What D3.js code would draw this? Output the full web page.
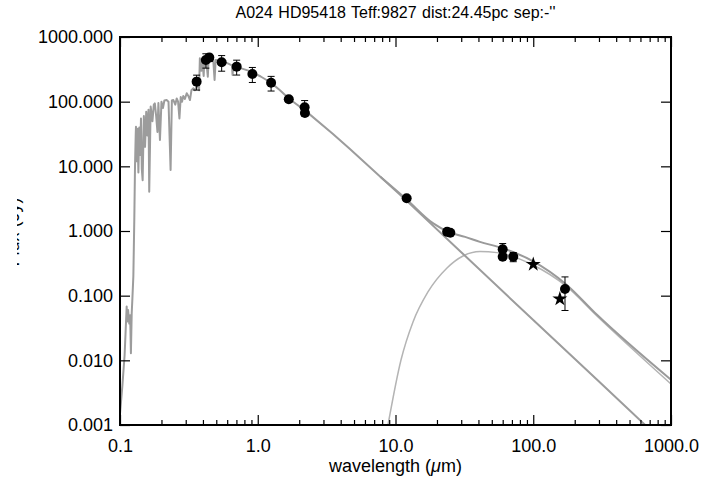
<!DOCTYPE html>
<html>
<head>
<meta charset="utf-8">
<script src="https://cdn.jsdelivr.net/npm/d3@7"></script>
<style>
  html, body { margin: 0; padding: 0; background: #fff; }
  svg { display: block; }
  text { font-family: "Liberation Sans", Arial, Helvetica, sans-serif; fill: #000; }
</style>
</head>
<body>
<svg id="chart" width="705" height="477"></svg>
<script>
// ---- data (wavelength in micron, flux density in Jy) ----
const titleText = "A024 HD95418 Teff:9827 dist:24.45pc sep:-''";

// stellar photosphere model spectrum
const specLam = [0.100, 0.104, 0.108, 0.110, 0.1118, 0.113, 0.1145, 0.1168, 0.1185, 0.120, 0.1216, 0.123,
  0.125, 0.127, 0.1285, 0.130, 0.1306, 0.132, 0.134, 0.136, 0.138, 0.140, 0.142, 0.144, 0.146, 0.149,
  0.152, 0.155, 0.158, 0.161, 0.163, 0.167, 0.172, 0.176, 0.179, 0.183, 0.187, 0.190, 0.195, 0.200,
  0.205, 0.210, 0.218, 0.225, 0.233, 0.238, 0.244, 0.252, 0.258, 0.264, 0.270, 0.276, 0.282, 0.288,
  0.296, 0.305, 0.315, 0.322, 0.330, 0.341, 0.350, 0.360, 0.368, 0.375, 0.380, 0.390, 0.397, 0.405,
  0.410, 0.420, 0.434, 0.440, 0.455, 0.475, 0.486, 0.495, 0.530, 0.600, 0.650, 0.656, 0.665, 0.750,
  0.900, 1.05, 1.25, 1.45, 1.68, 1.90, 2.19, 3.5, 4.67, 7.76, 12.0, 30.0, 100.0, 300.0, 700.0];
const specFlux = [0.0015, 0.004, 0.012, 0.03, 0.068, 0.04, 0.06, 0.037, 0.05, 0.0129, 0.053, 0.09,
  0.2, 1.5, 9.9, 30, 41, 12, 38, 8, 40, 15, 55, 9, 6.1, 60,
  20, 70, 30, 75, 4.05, 84, 50, 90, 94, 60, 34, 95, 25.5, 100,
  80, 104, 106, 100, 8.8, 104, 106, 90, 112, 100, 55, 118, 100, 122,
  110, 135, 120, 106, 150, 161, 150, 172, 180, 150, 469, 300, 420, 250,
  480, 500, 243, 480, 470, 450, 216, 440, 430, 395, 365, 258, 355, 330,
  291, 245, 196, 150, 112, 92, 74, 32, 18.6, 6.9, 2.95, 0.47, 0.042, 0.0047, 0.00086];

// cold dust component
const diskLam  = [8.82, 10.96, 13.4, 17.2, 23.65, 30.9, 41.06, 54.56, 99.6, 172.9, 290, 1000];
const diskFlux = [0.001, 0.0101, 0.0392, 0.114, 0.268, 0.411, 0.482, 0.463, 0.298, 0.141, 0.0485, 0.0043];

// photosphere + dust
const totLam  = [7.76, 12.0, 18.8, 24.2, 32.0, 41.0, 60.0, 100, 172, 289, 1000];
const totFlux = [6.9, 3.1, 1.31, 0.97, 0.81, 0.68, 0.54, 0.34, 0.152, 0.051, 0.0050];

// photometry (filled circles) with 1-sigma errors
const obsLam  = [0.36, 0.42, 0.445, 0.547, 0.703, 0.914, 1.25, 1.68, 2.19, 2.20, 12.05, 23.7, 25.0, 60.0, 60.0, 71.6, 170];
const obsFlux = [204, 440, 480, 406, 348, 268, 196, 109, 82, 67, 3.21, 0.97, 0.94, 0.52, 0.40, 0.40, 0.127];
const obsErr  = [53, 110, 60, 110, 90, 70, 50, 10, 22, 5, 0, 0, 0, 0.12, 0, 0.065, 0.068];

// far-IR photometry (stars)
const starLam  = [100, 156];
const starFlux = [0.305, 0.089];

const xTicks = [0.1, 1, 10, 100, 1000];
const yTicks = [0.001, 0.01, 0.1, 1, 10, 100, 1000];

// ---- layout ----
const svg = d3.select("#chart");
const L = 120, R = 671, T = 37, B = 425;

const x = d3.scaleLog().domain([0.1, 1000]).range([L, R]);
const y = d3.scaleLog().domain([0.001, 1000]).range([B, T]);

svg.append("defs").append("clipPath").attr("id", "plotclip")
  .append("rect").attr("x", L).attr("y", T).attr("width", R - L).attr("height", B - T);
svg.select("defs").append("clipPath").attr("id", "ylabclip")
  .append("rect").attr("x", 17).attr("y", 0).attr("width", 20).attr("height", 477);

const plot = svg.append("g").attr("clip-path", "url(#plotclip)");

const zip = (a, b) => a.map((v, i) => [v, b[i]]);
const lineLin = d3.line().x(d => x(d[0])).y(d => y(d[1]));
const lineSmooth = d3.line().x(d => x(d[0])).y(d => y(d[1])).curve(d3.curveMonotoneX);

plot.append("path").datum(zip(diskLam, diskFlux))
  .attr("d", lineSmooth).attr("fill", "none")
  .attr("stroke", "#b4b4b4").attr("stroke-width", 1.5);

plot.append("path").datum(zip(specLam, specFlux))
  .attr("d", lineLin).attr("fill", "none")
  .attr("stroke", "#9c9c9c").attr("stroke-width", 2).attr("stroke-linejoin", "round");

plot.append("path").datum(zip(totLam, totFlux))
  .attr("d", lineSmooth).attr("fill", "none")
  .attr("stroke", "#9a9a9a").attr("stroke-width", 2);

// error bars
const obs = obsLam.map((l, i) => ({ l, f: obsFlux[i], e: obsErr[i] }));
const eb = plot.append("g").attr("stroke", "#000").attr("stroke-width", 1);
obs.filter(d => d.e > 0).forEach(d => {
  const cx = x(d.l), y0 = y(d.f - d.e), y1 = y(d.f + d.e);
  eb.append("line").attr("x1", cx).attr("x2", cx).attr("y1", y0).attr("y2", y1);
  eb.append("line").attr("x1", cx - 3.5).attr("x2", cx + 3.5).attr("y1", y0).attr("y2", y0);
  eb.append("line").attr("x1", cx - 3.5).attr("x2", cx + 3.5).attr("y1", y1).attr("y2", y1);
});

plot.append("g").selectAll("circle").data(obs).join("circle")
  .attr("cx", d => x(d.l)).attr("cy", d => y(d.f)).attr("r", 5).attr("fill", "#000");

plot.append("g").selectAll("path").data(zip(starLam, starFlux)).join("path")
  .attr("transform", d => `translate(${x(d[0])},${y(d[1])})`)
  .attr("d", d3.symbol(d3.symbolStar, 70)).attr("fill", "#000");

// ---- axes (ticks point inward) ----
const fontSize = 18;
const minorX = [];
for (let e = -1; e < 3; e++) for (let k = 2; k <= 9; k++) minorX.push(k * Math.pow(10, e));

function styleAxis(g) {
  g.select(".domain").remove();
  g.selectAll(".tick line").attr("stroke", "#000").attr("stroke-width", 1.2);
  g.selectAll("text").attr("font-size", fontSize).attr("font-family", null);
}

svg.append("g").attr("transform", `translate(0,${B})`)
  .call(d3.axisBottom(x).tickValues(xTicks).tickFormat(d3.format(".1f")).tickSize(-10).tickPadding(14))
  .call(styleAxis);
svg.append("g").attr("transform", `translate(0,${B})`)
  .call(d3.axisBottom(x).tickValues(minorX).tickFormat("").tickSize(-5))
  .call(styleAxis);
svg.append("g").attr("transform", `translate(0,${T})`)
  .call(d3.axisTop(x).tickValues(xTicks).tickFormat("").tickSize(-10))
  .call(styleAxis);
svg.append("g").attr("transform", `translate(0,${T})`)
  .call(d3.axisTop(x).tickValues(minorX).tickFormat("").tickSize(-5))
  .call(styleAxis);
svg.append("g").attr("transform", `translate(${L},0)`)
  .call(d3.axisLeft(y).tickValues(yTicks).tickFormat(d3.format(".3f")).tickSize(-10).tickPadding(7))
  .call(styleAxis);
svg.append("g").attr("transform", `translate(${R},0)`)
  .call(d3.axisRight(y).tickValues(yTicks).tickFormat("").tickSize(-10))
  .call(styleAxis);

// frame
svg.append("rect").attr("x", L).attr("y", T).attr("width", R - L).attr("height", B - T)
  .attr("fill", "none").attr("stroke", "#000").attr("stroke-width", 2);

// titles
svg.append("text").attr("x", (L + R) / 2).attr("y", 18).attr("text-anchor", "middle")
  .attr("font-size", 16).attr("word-spacing", 1).text(titleText);

const xt = svg.append("text").attr("x", (L + R) / 2).attr("y", 472).attr("text-anchor", "middle")
  .attr("font-size", fontSize);
xt.append("tspan").text("wavelength (");
xt.append("tspan").attr("font-style", "italic").text("\u03bc");
xt.append("tspan").text("m)");

svg.append("g").attr("clip-path", "url(#ylabclip)")
  .append("text").attr("transform", "translate(19,232) rotate(-90)")
  .attr("text-anchor", "middle").attr("font-size", fontSize).text("Flux (Jy)");
</script>
</body>
</html>
